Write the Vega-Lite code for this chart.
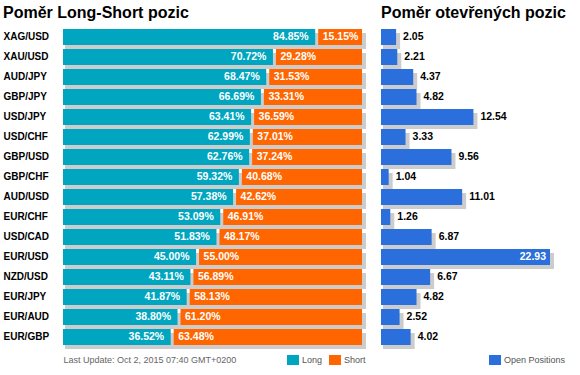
{
  "$schema": "https://vega.github.io/schema/vega-lite/v6.json",
  "background": "white",
  "padding": {"left": 3, "top": 5, "right": 0, "bottom": 0},
  "autosize": {"type": "pad"},
  "bounds": "flush",
  "spacing": 19,
  "config": {
    "view": {"stroke": null},
    "font": "Liberation Sans",
    "title": {"fontSize": 16, "fontWeight": "bold", "color": "#000000", "anchor": "start", "baseline": "alphabetic", "offset": 6},
    "legend": {"orient": "none", "direction": "horizontal", "title": null, "symbolType": "M-1.2,-1H1.2V1H-1.2Z", "symbolSize": 100, "symbolStrokeWidth": 0, "symbolOpacity": 1, "labelFontSize": 9, "labelColor": "#555555", "labelOffset": 4, "columnPadding": 6}
  },
  "data": {"values": [
    {"pair": "XAG/USD", "long": 0.8485, "short": 0.1515, "open": 2.05},
    {"pair": "XAU/USD", "long": 0.7072, "short": 0.2928, "open": 2.21},
    {"pair": "AUD/JPY", "long": 0.6847, "short": 0.3153, "open": 4.37},
    {"pair": "GBP/JPY", "long": 0.6669, "short": 0.3331, "open": 4.82},
    {"pair": "USD/JPY", "long": 0.6341, "short": 0.3659, "open": 12.54},
    {"pair": "USD/CHF", "long": 0.6299, "short": 0.3701, "open": 3.33},
    {"pair": "GBP/USD", "long": 0.6276, "short": 0.3724, "open": 9.56},
    {"pair": "GBP/CHF", "long": 0.5932, "short": 0.4068, "open": 1.04},
    {"pair": "AUD/USD", "long": 0.5738, "short": 0.4262, "open": 11.01},
    {"pair": "EUR/CHF", "long": 0.5309, "short": 0.4691, "open": 1.26},
    {"pair": "USD/CAD", "long": 0.5183, "short": 0.4817, "open": 6.87},
    {"pair": "EUR/USD", "long": 0.4500, "short": 0.5500, "open": 22.93},
    {"pair": "NZD/USD", "long": 0.4311, "short": 0.5689, "open": 6.67},
    {"pair": "EUR/JPY", "long": 0.4187, "short": 0.5813, "open": 4.82},
    {"pair": "EUR/AUD", "long": 0.3880, "short": 0.6120, "open": 2.52},
    {"pair": "EUR/GBP", "long": 0.3652, "short": 0.6348, "open": 4.02}
  ]},
  "resolve": {"scale": {"color": "independent", "x": "independent"}, "legend": {"color": "independent"}},
  "hconcat": [
    {
      "width": 299,
      "height": 320,
      "title": {"text": "Poměr Long-Short pozic"},
      "encoding": {
        "y": {"field": "pair", "type": "nominal", "sort": null,
          "scale": {"paddingInner": 0.2, "paddingOuter": 0.1},
          "axis": {"title": null, "domain": false, "ticks": false, "labelAlign": "left", "labelPadding": 60, "labelFontSize": 10, "labelFontWeight": "bold", "labelColor": "#000000"}}
      },
      "layer": [
        {
          "mark": {"type": "bar", "color": "#cccccc", "xOffset": 2, "x2Offset": 4, "yOffset": 4},
          "encoding": {
            "x": {"datum": 0, "type": "quantitative", "scale": {"domain": [0, 1], "nice": false},
              "axis": {"domain": false, "ticks": false, "labels": false, "grid": false, "title": "Last Update: Oct 2, 2015 07:40 GMT+0200", "titleAnchor": "start", "titleAlign": "left", "titleFontSize": 9, "titleFontWeight": "normal", "titleColor": "#666666", "titlePadding": 8}},
            "x2": {"datum": 1}
          }
        },
        {
          "mark": {"type": "bar", "xOffset": -1.5},
          "encoding": {
            "x": {"field": "long", "type": "quantitative"},
            "x2": {"datum": 0},
            "color": {"datum": "Long", "type": "nominal", "scale": {"domain": ["Long", "Short"], "range": ["#00A6BF", "#FF6600"]}, "legend": {"legendX": 225, "legendY": 328}}
          }
        },
        {
          "mark": {"type": "bar", "xOffset": 1.5},
          "encoding": {
            "x": {"field": "long", "type": "quantitative"},
            "x2": {"datum": 1},
            "color": {"datum": "Short", "type": "nominal"}
          }
        },
        {
          "mark": {"type": "text", "align": "right", "baseline": "middle", "dx": -8, "color": "white", "fontWeight": "bold", "fontSize": 10.5},
          "encoding": {
            "x": {"field": "long", "type": "quantitative"},
            "text": {"field": "long", "type": "quantitative", "format": ".2%"}
          }
        },
        {
          "mark": {"type": "text", "align": "left", "baseline": "middle", "dx": 6, "color": "white", "fontWeight": "bold", "fontSize": 10.5},
          "encoding": {
            "x": {"field": "long", "type": "quantitative"},
            "text": {"field": "short", "type": "quantitative", "format": ".2%"}
          }
        }
      ]
    },
    {
      "width": 169,
      "height": 320,
      "title": {"text": "Poměr otevřených pozic"},
      "encoding": {
        "y": {"field": "pair", "type": "nominal", "sort": null,
          "scale": {"paddingInner": 0.2, "paddingOuter": 0.1}, "axis": null}
      },
      "layer": [
        {
          "mark": {"type": "bar", "color": "#cccccc", "xOffset": 4, "x2Offset": 2, "yOffset": 4},
          "encoding": {
            "x": {"field": "open", "type": "quantitative", "scale": {"domain": [0, 22.93], "nice": false}, "axis": null},
            "x2": {"datum": 0}
          }
        },
        {
          "mark": {"type": "bar"},
          "encoding": {
            "x": {"field": "open", "type": "quantitative"},
            "x2": {"datum": 0},
            "color": {"datum": "Open Positions", "type": "nominal", "scale": {"range": ["#2A6FDB"]}, "legend": {"legendX": 109, "legendY": 328}}
          }
        },
        {
          "transform": [{"filter": "datum.open < 20"}],
          "mark": {"type": "text", "align": "left", "baseline": "middle", "dx": 7, "color": "black", "fontWeight": "bold", "fontSize": 10.5},
          "encoding": {
            "x": {"field": "open", "type": "quantitative"},
            "text": {"field": "open", "type": "quantitative", "format": ".2f"}
          }
        },
        {
          "transform": [{"filter": "datum.open >= 20"}],
          "mark": {"type": "text", "align": "right", "baseline": "middle", "dx": -4, "color": "white", "fontWeight": "bold", "fontSize": 10.5},
          "encoding": {
            "x": {"field": "open", "type": "quantitative"},
            "text": {"field": "open", "type": "quantitative", "format": ".2f"}
          }
        }
      ]
    }
  ]
}
